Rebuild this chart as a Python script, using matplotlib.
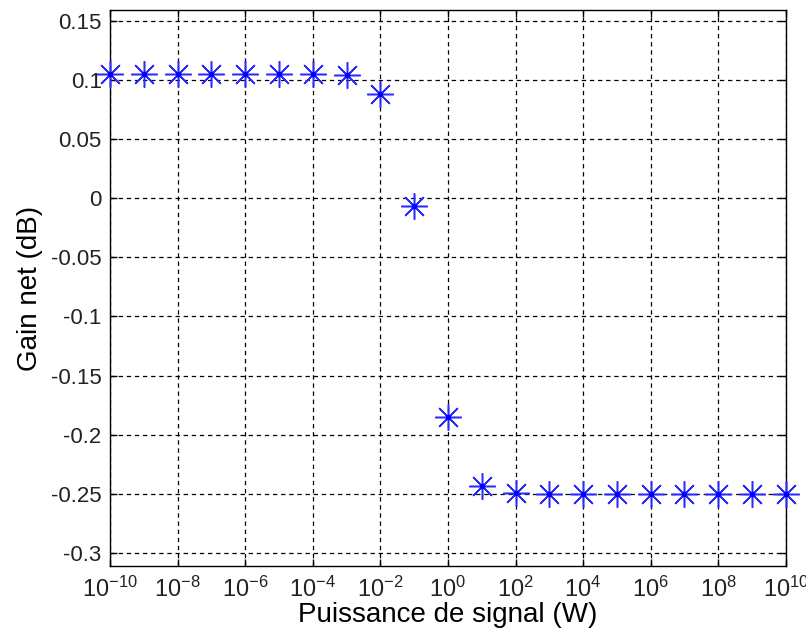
import numpy as np
import matplotlib
matplotlib.use("Agg")
import matplotlib.pyplot as plt

# signal power (W) and net gain (dB)
puissance = [1e-10, 1e-9, 1e-8, 1e-7, 1e-6, 1e-5, 1e-4, 1e-3, 1e-2, 1e-1,
             1e0, 1e1, 1e2, 1e3, 1e4, 1e5, 1e6, 1e7, 1e8, 1e9, 1e10]
gain = [0.105, 0.105, 0.105, 0.105, 0.105, 0.105, 0.105, 0.104, 0.088, -0.007,
        -0.185, -0.243, -0.249, -0.250, -0.250, -0.250, -0.250, -0.250, -0.250, -0.250, -0.250]

xticks = [10.0 ** k for k in range(-10, 11, 2)]
xlabels = [r'$10^{%d}$' % k for k in range(-10, 11, 2)]
yticks = [-0.3, -0.25, -0.2, -0.15, -0.1, -0.05, 0, 0.05, 0.1, 0.15]
ylabels = ['-0.3', '-0.25', '-0.2', '-0.15', '-0.1', '-0.05', '0', '0.05', '0.1', '0.15']

plt.rcParams['font.family'] = ['Liberation Sans', 'DejaVu Sans']
plt.rcParams['mathtext.fontset'] = 'custom'
plt.rcParams['mathtext.rm'] = 'Liberation Sans'
plt.rcParams['mathtext.it'] = 'Liberation Sans'

fig = plt.figure(figsize=(8.06, 6.39), dpi=100)
ax = fig.add_axes([0.1365, 0.1142, 0.8385, 0.8702])

ax.plot(puissance, gain, linestyle='none', marker=(8, 2, 0), markersize=19,
        markeredgewidth=1.1, color='#2b2bff', clip_on=False, zorder=3)
ax.plot(puissance, gain, linestyle='none', marker='o', markersize=3,
        color='#0000ff', clip_on=False, zorder=4)

ax.set_xscale('log')
ax.set_xlim(1e-10, 1e10)
ax.set_ylim(-0.311, 0.159)
ax.set_xticks(xticks)
ax.set_xticklabels(xlabels)
ax.minorticks_off()
ax.set_yticks(yticks)
ax.set_yticklabels(ylabels)

ax.grid(True, which='major', color='black', linestyle=(0, (3.5, 3)), linewidth=0.9)
ax.tick_params(direction='in', top=True, right=True, length=5, width=1,
               labelsize=16, colors='black', labelcolor='#222222', pad=6)
ax.tick_params(axis='x', labelsize=17, pad=8)
for s in ax.spines.values():
    s.set_linewidth(1.0)

ax.set_xlabel('Puissance de signal (W)', fontsize=20, labelpad=0)
ax.set_ylabel('Gain net (dB)', fontsize=20, labelpad=6)

fig.savefig('out.png', dpi=100)
